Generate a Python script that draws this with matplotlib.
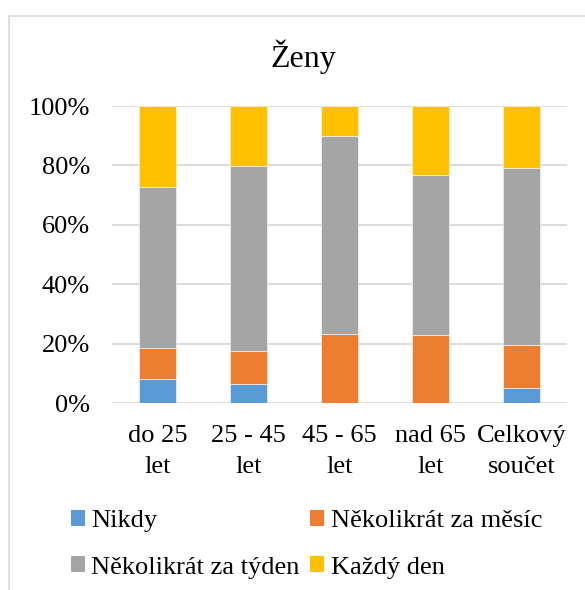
"""
Ženy - 100% stacked bar chart of frequency by age group.
"""

import matplotlib
matplotlib.use("Agg")
import matplotlib.pyplot as plt
from matplotlib.patches import Patch
from matplotlib.lines import Line2D
from matplotlib.ticker import PercentFormatter

plt.rcParams["font.family"] = "serif"
plt.rcParams["font.serif"] = ["Liberation Serif", "DejaVu Serif"]

categories = ["do 25\nlet", "25 - 45\nlet", "45 - 65\nlet", "nad 65\nlet", "Celkový\nsoučet"]
series_names = ["Nikdy", "Několikrát za měsíc", "Několikrát za týden", "Každý den"]
nikdy = [8.1, 6.5, 0.0, 0.0, 5.2]
mesic = [10.5, 11.1, 23.2, 22.9, 14.4]
tyden = [54.1, 62.2, 66.7, 53.9, 59.6]
kazdy = [27.3, 20.2, 10.1, 23.2, 20.8]
colors = ["#5B9BD5", "#ED7D31", "#A5A5A5", "#FFC000"]

W, H = 585, 590
fig = plt.figure(figsize=(W / 100, H / 100), dpi=100)
ax = fig.add_axes([112 / W, 1 - 403 / H, 455 / W, 297 / H])

x = range(len(categories))
bottom = [0.0] * len(categories)
for vals, col in zip([nikdy, mesic, tyden, kazdy], colors):
    ax.bar(x, vals, width=0.4, bottom=bottom, color=col,
           edgecolor="#F2F2F2", linewidth=0.5, zorder=3)
    bottom = [b + v for b, v in zip(bottom, vals)]

ax.set_xlim(-0.5, len(categories) - 0.5)
ax.set_ylim(0, 100)
ax.set_yticks(range(0, 101, 20))
ax.yaxis.set_major_formatter(PercentFormatter(decimals=0))
ax.set_xticks(list(x))
ax.set_xticklabels(categories)
for t in ax.get_xticklabels():
    t.set_linespacing(1.5)
ax.tick_params(axis="both", length=0, labelsize=19, colors="#000000")
ax.tick_params(axis="x", pad=16)
ax.tick_params(axis="y", pad=16)
ax.grid(axis="y", color="#D9D9D9", linewidth=1.3, zorder=0)
for s in ax.spines.values():
    s.set_visible(False)

fig.text(303 / W, 1 - 57 / H, "Ženy", fontsize=23, ha="center", va="center")

handles = [Patch(facecolor=c, edgecolor="none") for c in colors]
order = [0, 2, 1, 3]
fig.legend([handles[i] for i in order], [series_names[i] for i in order],
           ncol=2, loc="upper left", bbox_to_anchor=(71 / W, 1 - 510 / H),
           frameon=False, fontsize=19, borderpad=0, borderaxespad=0,
           handlelength=0.53, handleheight=0.53, handletextpad=0.24,
           columnspacing=0.4, labelspacing=0.92)

# chart frame (left and top edges visible)
fig.add_artist(Line2D([9 / W, 9 / W, 1], [0, 1 - 16 / H, 1 - 16 / H],
                      color="#D9D9D9", linewidth=1.2))

fig.savefig("out.png", dpi=100)
